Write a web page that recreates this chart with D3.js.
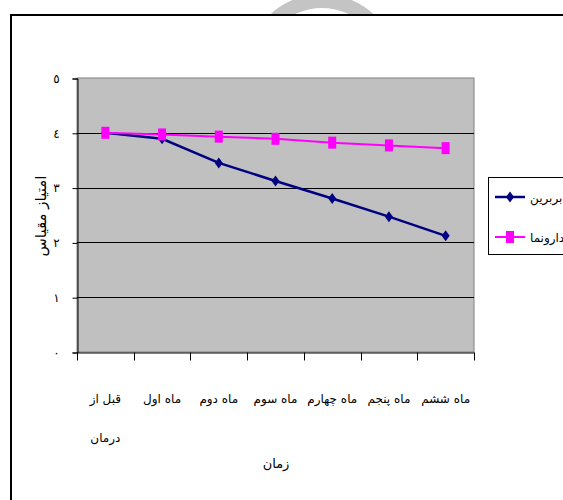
<!DOCTYPE html>
<html><head><meta charset="utf-8">
<script src="https://cdn.jsdelivr.net/npm/d3@7"></script>
<style>
html,body{margin:0;padding:0;background:#fff;}
svg{display:block;font-family:"DejaVu Sans",sans-serif;}
</style></head>
<body>
<svg id="c" width="563" height="500"></svg>
<script>
const categories = ["قبل از درمان","ماه اول","ماه دوم","ماه سوم","ماه چهارم","ماه پنجم","ماه ششم"];
const categoryLines = [["قبل از","درمان"],["ماه اول"],["ماه دوم"],["ماه سوم"],["ماه چهارم"],["ماه پنجم"],["ماه ششم"]];
const seriesNames = ["بربرین","دارونما"];
const berberine = [4.0, 3.89, 3.45, 3.12, 2.80, 2.47, 2.12];
const placebo = [4.0, 3.97, 3.93, 3.89, 3.82, 3.77, 3.72];
const yTicks = [0,1,2,3,4,5];
const yTickLabels = ["٠","١","٢","٣","٤","٥"];
const yTitle = "امتیاز مقیاس";
const xTitle = "زمان";

const svg = d3.select("#c");

// watermark (partially hidden ring at top)
const defs = svg.append("defs");
defs.append("clipPath").attr("id","wm")
  .append("rect").attr("x",0).attr("y",0).attr("width",563).attr("height",14);
const arc = d3.arc().innerRadius(62).outerRadius(76).startAngle(0).endAngle(2*Math.PI);
svg.append("g").attr("clip-path","url(#wm)")
  .append("path").attr("d",arc()).attr("transform","translate(322,70)")
  .attr("fill","#c4c4c4");

// outer frame (extends beyond view)
svg.append("rect").attr("x",11).attr("y",15).attr("width",600).attr("height",600)
  .attr("fill","none").attr("stroke","#000").attr("stroke-width",2);

const L=77,R=474,T=78,B=352;
const x = d3.scaleBand().domain(categories).range([L,R]);
const y = d3.scaleLinear().domain([0,5]).range([B,T]);

// plot background
svg.append("rect").attr("x",L).attr("y",T).attr("width",R-L).attr("height",B-T)
  .attr("fill","#c0c0c0").attr("stroke","#808080").attr("stroke-width",1);

// gridlines
svg.append("g").selectAll("line").data(yTicks.filter(d=>d>0&&d<5)).join("line")
  .attr("x1",L).attr("x2",R).attr("y1",d=>Math.round(y(d))+0.5).attr("y2",d=>Math.round(y(d))+0.5)
  .attr("stroke","#000").attr("stroke-width",1);

// y axis
const yAxis = d3.axisLeft(y).tickValues(yTicks).tickSize(5).tickPadding(15)
  .tickFormat((d,i)=>yTickLabels[i]);
const gy = svg.append("g").attr("transform",`translate(${L+0.5},0.5)`).call(yAxis);
gy.select(".domain").attr("stroke","#000");
gy.selectAll(".tick line").attr("stroke","#000");
gy.selectAll(".tick text").attr("font-size",12).attr("fill","#000").attr("font-family","DejaVu Sans")
  .attr("text-anchor","middle").attr("x",-21);

// x axis
const xAxis = d3.axisBottom(x).tickSize(0).tickFormat("");
const gx = svg.append("g").attr("transform",`translate(0,${B+0.5})`).call(xAxis);
gx.select(".domain").attr("stroke","#000");
gx.selectAll(".tick").remove();
const bounds = categories.map(c=>x(c)).concat([R]);
gx.selectAll("line.bt").data(bounds).join("line").attr("class","bt")
  .attr("x1",d=>Math.round(d)+0.5).attr("x2",d=>Math.round(d)+0.5).attr("y1",0).attr("y2",8)
  .attr("stroke","#000");

const xl = svg.append("g").attr("font-size",12).attr("fill","#000");
categories.forEach((c,i)=>{
  categoryLines[i].forEach((t,j)=>{
    xl.append("text").attr("x",x(c)+x.bandwidth()/2).attr("y",403+j*39)
      .attr("text-anchor","middle").text(t);
  });
});

// titles
svg.append("text").attr("x",276).attr("y",468).attr("text-anchor","middle")
  .attr("font-size",13).text(xTitle);
svg.append("text").attr("transform","translate(46,216) rotate(-90)").attr("text-anchor","middle")
  .attr("font-size",15).text(yTitle);

const cx = (d,i)=>x(categories[i])+x.bandwidth()/2;
const line = d3.line().x((d,i)=>cx(d,i)).y(d=>y(d));

// berberine
svg.append("path").datum(berberine).attr("d",line).attr("fill","none")
  .attr("stroke","#000080").attr("stroke-width",2.5);
svg.append("g").selectAll("path").data(berberine).join("path")
  .attr("d","M0,-5.5L4,0L0,5.5L-4,0Z")
  .attr("transform",(d,i)=>`translate(${cx(d,i)},${y(d)})`).attr("fill","#000080");

// placebo
svg.append("path").datum(placebo).attr("d",line).attr("fill","none")
  .attr("stroke","#ff00ff").attr("stroke-width",2);
svg.append("g").selectAll("rect").data(placebo).join("rect")
  .attr("x",(d,i)=>cx(d,i)-4).attr("y",d=>y(d)-6).attr("width",8).attr("height",12)
  .attr("fill","#ff00ff");

// legend
const lg = svg.append("g");
lg.append("rect").attr("x",488.5).attr("y",177.5).attr("width",100).attr("height",77)
  .attr("fill","#fff").attr("stroke","#000").attr("stroke-width",1);
const legY=[197,237];
lg.append("line").attr("x1",495).attr("x2",525).attr("y1",legY[0]).attr("y2",legY[0])
  .attr("stroke","#000080").attr("stroke-width",2.5);
lg.append("path").attr("d","M0,-5.5L4,0L0,5.5L-4,0Z").attr("transform",`translate(510,${legY[0]})`).attr("fill","#000080");
lg.append("line").attr("x1",495).attr("x2",525).attr("y1",legY[1]).attr("y2",legY[1])
  .attr("stroke","#ff00ff").attr("stroke-width",2);
lg.append("rect").attr("x",506).attr("y",legY[1]-6).attr("width",8).attr("height",12).attr("fill","#ff00ff");
seriesNames.forEach((n,i)=>{
  lg.append("text").attr("x",530).attr("y",legY[i]+5).attr("font-size",12).text(n);
});
</script>
</body></html>
